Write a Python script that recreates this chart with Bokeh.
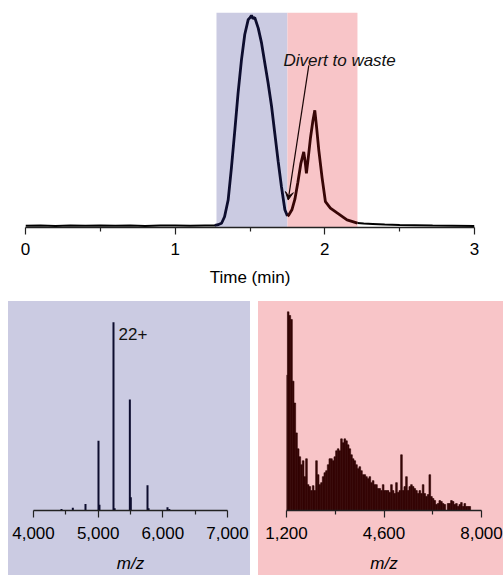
import numpy as np
from bokeh.plotting import figure
from bokeh.layouts import column, row
from bokeh.models import (Range1d, FixedTicker, NumeralTickFormatter, Arrow, VeeHead,
                          Label, Spacer, ColumnDataSource)
from bokeh.embed import file_html
from bokeh.resources import INLINE

# ---------------- data ----------------
# chromatogram (normalised intensity vs time in minutes)
time_min = [0.0, 0.1, 0.2, 0.3, 0.4, 0.5, 0.6, 0.7, 0.8, 0.9, 1.0, 1.1, 1.2, 1.25,
            1.265, 1.29, 1.31, 1.33, 1.354, 1.376, 1.399, 1.42, 1.443, 1.465, 1.488,
            1.50, 1.51, 1.52, 1.532, 1.555, 1.577, 1.6, 1.621, 1.644, 1.666, 1.688,
            1.71, 1.733, 1.75, 1.759, 1.78, 1.80, 1.82, 1.84, 1.859, 1.868, 1.877,
            1.89, 1.904, 1.92, 1.933, 1.945, 1.96, 1.982, 2.004, 2.037, 2.082, 2.148,
            2.218, 2.26, 2.32, 2.4, 2.5, 2.6, 2.72, 2.85, 3.0]
intensity = [0.004, 0.006, 0.003, 0.005, 0.004, 0.006, 0.004, 0.005, 0.003, 0.005,
             0.006, 0.004, 0.005, 0.005, 0.006, 0.010, 0.016, 0.047, 0.126, 0.28,
             0.46, 0.63, 0.79, 0.91, 0.98, 0.99, 1.0, 0.985, 0.99, 0.94, 0.87, 0.77,
             0.68, 0.57, 0.44, 0.31, 0.19, 0.08, 0.05, 0.055, 0.08, 0.13, 0.21, 0.30,
             0.354, 0.31, 0.252, 0.33, 0.42, 0.50, 0.551, 0.47, 0.36, 0.23, 0.118,
             0.088, 0.065, 0.032, 0.017, 0.015, 0.013, 0.010, 0.008, 0.007, 0.005,
             0.004, 0.003]
collect_window = [1.276, 1.75]   # kept fraction (blue)
waste_window = [1.75, 2.218]     # diverted fraction (red)

# left spectrum (collected fraction)
mz_left = [4433, 4608, 4804, 5005, 5020, 5237, 5255, 5490, 5505, 5763, 5780, 6072, 6100]
rel_left = [0.008, 0.014, 0.034, 0.37, 0.03, 1.0, 0.012, 0.59, 0.07, 0.134, 0.012, 0.017, 0.008]

# right spectrum (diverted fraction)
mz_right = [1200, 1258, 1316, 1374, 1432, 1490, 1549, 1607, 1665, 1723, 1781, 1839, 1897,
            1955, 2013, 2072, 2130, 2188, 2246, 2304, 2362, 2420, 2478, 2536, 2594, 2652,
            2711, 2769, 2827, 2885, 2943, 3001, 3059, 3117, 3175, 3233, 3292, 3350, 3408,
            3466, 3524, 3582, 3640, 3698, 3756, 3814, 3873, 3931, 3989, 4047, 4105, 4163,
            4221, 4279, 4337, 4395, 4454, 4512, 4570, 4628, 4686, 4744, 4802, 4860, 4918,
            4976, 5035, 5093, 5151, 5209, 5267, 5325, 5383, 5441, 5499, 5557, 5616, 5674,
            5732, 5790, 5848, 5906, 5964, 6022, 6080, 6138, 6197, 6255, 6313, 6371, 6429,
            6487, 6545, 6603, 6661, 6719, 6778, 6836, 6894, 6952, 7010, 7068, 7126, 7184,
            7242, 7300, 7359, 7417, 7475, 7533, 7591, 7649]
rel_right = [0.68, 1.0, 0.98, 0.96, 0.65, 0.54, 0.39, 0.31, 0.27, 0.23, 0.25, 0.17, 0.26,
             0.13, 0.12, 0.10, 0.125, 0.10, 0.25, 0.18, 0.13, 0.14, 0.17, 0.19, 0.20, 0.23,
             0.26, 0.26, 0.25, 0.27, 0.30, 0.31, 0.30, 0.36, 0.34, 0.36, 0.35, 0.33, 0.31,
             0.28, 0.26, 0.25, 0.23, 0.21, 0.22, 0.20, 0.18, 0.18, 0.17, 0.16, 0.17, 0.14,
             0.15, 0.13, 0.13, 0.11, 0.11, 0.10, 0.13, 0.10, 0.10, 0.10, 0.09, 0.13, 0.10,
             0.085, 0.14, 0.09, 0.10, 0.28, 0.10, 0.12, 0.17, 0.10, 0.12, 0.13, 0.12, 0.11,
             0.10, 0.085, 0.10, 0.085, 0.13, 0.085, 0.07, 0.08, 0.18, 0.07, 0.06, 0.05,
             0.03, 0.035, 0.05, 0.045, 0.035, 0.03, 0.0, 0.035, 0.035, 0.05, 0.045, 0.03,
             0.035, 0.02, 0.03, 0.04, 0.02, 0.035, 0.02, 0.02, 0.02, 0.0]

# ---------------- style ----------------
FONT = "Liberation Sans"
FS = "17px"
BLUE_BG = "#cbcbe2"
RED_BG = "#f8c5c8"
NAVY = "#0d0d2e"
MAROON = "#380606"


def style_axis(ax):
    ax.axis_line_color = "#222222"
    ax.axis_line_width = 1.5
    ax.major_tick_line_color = "#222222"
    ax.minor_tick_line_color = "#222222"
    ax.major_tick_line_width = 1.2
    ax.minor_tick_line_width = 1.2
    ax.major_tick_out = 7
    ax.major_tick_in = 0
    ax.minor_tick_out = 4
    ax.minor_tick_in = 0
    ax.major_label_text_font = FONT
    ax.major_label_text_font_size = FS
    ax.major_label_text_color = "black"
    ax.axis_label_text_font = FONT
    ax.axis_label_text_font_size = FS
    ax.axis_label_text_color = "black"
    ax.axis_label_text_font_style = "normal"


# ---------------- top: chromatogram ----------------
top = figure(width=503, height=301, output_backend="svg", toolbar_location=None,
             x_range=Range1d(0, 3), y_range=Range1d(-0.004, 1.014),
             min_border_left=25, min_border_right=29, min_border_top=12, min_border_bottom=74)
top.grid.visible = False
top.outline_line_color = None
top.yaxis.visible = False
top.background_fill_color = "white"
top.border_fill_color = "white"

top.quad(left=[collect_window[0]], right=[collect_window[1]], bottom=[-0.004], top=[1.014],
         fill_color=BLUE_BG, line_color=None)
top.quad(left=[waste_window[0]], right=[waste_window[1]], bottom=[-0.004], top=[1.014],
         fill_color=RED_BG, line_color=None)

t = np.array(time_min)
v = np.array(intensity)
i0 = np.searchsorted(t, collect_window[0])
i1 = np.searchsorted(t, collect_window[1])
i2 = np.searchsorted(t, waste_window[1])
top.line(t[: i0 + 1], v[: i0 + 1], line_color="black", line_width=2)
top.line(t[i0 - 1: i1 + 1], v[i0 - 1: i1 + 1], line_color=NAVY, line_width=2.8)
top.line(t[i1: i2 + 1], v[i1: i2 + 1], line_color=MAROON, line_width=2.8)
top.line(t[i2:], v[i2:], line_color="black", line_width=2)

ax = top.xaxis[0]
ax.ticker = FixedTicker(ticks=[0, 1, 2, 3], minor_ticks=[0.5, 1.5, 2.5])
ax.axis_label = "Time (min)"
style_axis(ax)
ax.major_label_standoff = 8
ax.axis_label_standoff = 10

top.add_layout(Label(x=1.723, y=0.787, text="Divert to waste", text_font=FONT,
                     text_font_size=FS, text_font_style="italic", text_color="#111111",
                     text_baseline="alphabetic"))
top.add_layout(Arrow(end=VeeHead(size=8, line_color="#1a0606", fill_color="#1a0606", line_width=1),
                     x_start=1.893, y_start=0.764, x_end=1.755, y_end=0.126,
                     line_color="#1a0606", line_width=1.2))

# ---------------- bottom left: collected spectrum ----------------
bl = figure(width=242, height=274, output_backend="svg", toolbar_location=None,
            x_range=Range1d(4000, 7000), y_range=Range1d(0, 1.057),
            min_border_left=25, min_border_right=23, min_border_top=10, min_border_bottom=59,
            styles={"background-color": BLUE_BG})
bl.grid.visible = False
bl.outline_line_color = None
bl.yaxis.visible = False
bl.background_fill_color = BLUE_BG
bl.border_fill_color = None
bl.segment(x0=mz_left, y0=[0] * len(mz_left), x1=mz_left, y1=rel_left,
           line_color=NAVY, line_width=2)
ax = bl.xaxis[0]
ax.ticker = FixedTicker(ticks=[4000, 5000, 6000, 7000], minor_ticks=[4500, 5500, 6500])
ax.formatter = NumeralTickFormatter(format="0,0")
ax.axis_label = "m/z"
style_axis(ax)
ax.axis_label_text_font_style = "italic"
ax.major_label_standoff = 9
ax.axis_label_standoff = 12
bl.add_layout(Label(x=5314, y=0.937, text="22+", text_font=FONT, text_font_size=FS,
                    text_color="#111111", text_baseline="alphabetic"))

# ---------------- bottom right: diverted spectrum ----------------
br = figure(width=245, height=274, output_backend="svg", toolbar_location=None,
            x_range=Range1d(1200, 8000), y_range=Range1d(0, 1.0),
            min_border_left=28, min_border_right=22, min_border_top=10, min_border_bottom=59,
            styles={"background-color": RED_BG})
br.grid.visible = False
br.outline_line_color = None
br.yaxis.visible = False
br.background_fill_color = RED_BG
br.border_fill_color = None
src = ColumnDataSource(dict(mz=mz_right, rel=rel_right))
br.vbar(x="mz", top="rel", bottom=0, width=58, source=src,
        fill_color="#3a0606", line_color="#2a0202", line_width=0.6)
ax = br.xaxis[0]
ax.ticker = FixedTicker(ticks=[1200, 4600, 8000], minor_ticks=[2900, 6300])
ax.formatter = NumeralTickFormatter(format="0,0")
ax.axis_label = "m/z"
style_axis(ax)
ax.axis_label_text_font_style = "italic"
ax.major_label_standoff = 9
ax.axis_label_standoff = 12

layout = column(top, row(Spacer(width=8, height=274), bl, Spacer(width=8, height=274), br))
open("out.html", "w").write(file_html(layout, INLINE))
